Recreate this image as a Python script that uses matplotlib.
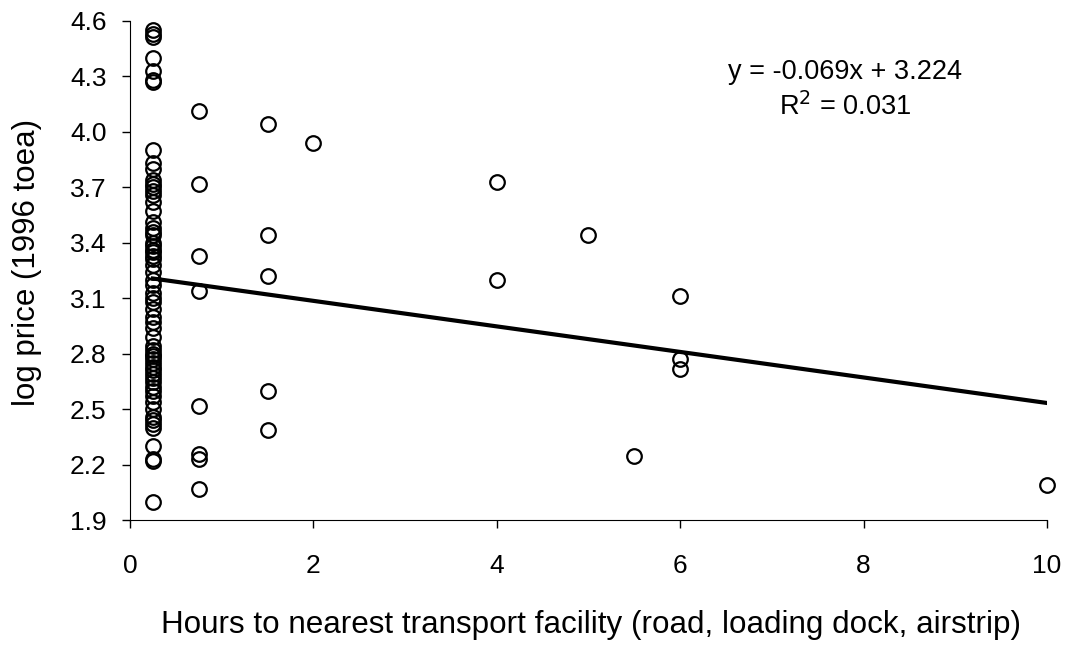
import numpy as np
import matplotlib
matplotlib.use('Agg')
import matplotlib.pyplot as plt

plt.rcParams['font.family'] = ['Liberation Sans', 'DejaVu Sans']

# horas hasta el transporte mas cercano y log del precio
horas_025 = [0.25] * 63
precio_025 = [4.55, 4.53, 4.51, 4.40, 4.33, 4.28, 4.27, 3.90, 3.83, 3.80,
              3.74, 3.72, 3.70, 3.68, 3.66, 3.62, 3.57, 3.51, 3.48, 3.46,
              3.44, 3.40, 3.38, 3.36, 3.35, 3.33, 3.31, 3.28, 3.24, 3.20,
              3.17, 3.13, 3.10, 3.08, 3.04, 3.00, 2.97, 2.94, 2.89, 2.84,
              2.82, 2.80, 2.79, 2.77, 2.75, 2.73, 2.71, 2.69, 2.67, 2.65,
              2.62, 2.60, 2.57, 2.54, 2.50, 2.46, 2.44, 2.42, 2.40, 2.30,
              2.23, 2.22, 2.00]
horas_otros = [0.75, 0.75, 0.75, 0.75, 0.75, 0.75, 0.75, 0.75,
               1.5, 1.5, 1.5, 1.5, 1.5,
               2, 4, 4, 5, 5.5, 6, 6, 6, 10]
precio_otros = [4.11, 3.72, 3.33, 3.14, 2.52, 2.26, 2.23, 2.07,
                4.04, 3.44, 3.22, 2.60, 2.39,
                3.94, 3.73, 3.20, 3.44, 2.25, 3.11, 2.77, 2.72, 2.09]

horas = horas_025 + horas_otros
precio = precio_025 + precio_otros

# recta de tendencia
pendiente = -0.069
intercepto = 3.224

fig = plt.figure(figsize=(10.69, 6.49), dpi=100)
ax = fig.add_axes([0.1216, 0.1983, 0.8578, 0.7698])

ax.plot(horas, precio, 'o', markersize=10.5, markerfacecolor='none',
        markeredgecolor='black', markeredgewidth=1.6, clip_on=False)

xl = np.array([min(horas), 10])
ax.plot(xl, pendiente * xl + intercepto, color='black', linewidth=3)

ax.set_xlim(0, 10)
ax.set_ylim(1.9, 4.6)
ax.set_xticks([0, 2, 4, 6, 8, 10])
ax.set_yticks([1.9, 2.2, 2.5, 2.8, 3.1, 3.4, 3.7, 4.0, 4.3, 4.6])
ax.set_yticklabels(['1.9', '2.2', '2.5', '2.8', '3.1', '3.4', '3.7', '4.0', '4.3', '4.6'])
ax.tick_params(direction='out', length=6, width=1, labelsize=19)
ax.tick_params(axis='x', pad=18)
ax.tick_params(axis='y', pad=11)
ax.spines['top'].set_visible(False)
ax.spines['right'].set_visible(False)

ax.set_xlabel('Hours to nearest transport facility (road, loading dock, airstrip)',
              fontsize=22.6)
ax.xaxis.set_label_coords(0.503, -0.180)
ax.set_ylabel('log price (1996 toea)', fontsize=22.5)
ax.yaxis.set_label_coords(-0.096, 0.516)

ax.text(0.78, 0.898, 'y = -0.069x + 3.224', transform=ax.transAxes,
        ha='center', va='center', fontsize=19.5)
ax.text(0.78, 0.827, 'R$^2$ = 0.031', transform=ax.transAxes,
        ha='center', va='center', fontsize=19.5)

plt.savefig('out.png', dpi=100)
